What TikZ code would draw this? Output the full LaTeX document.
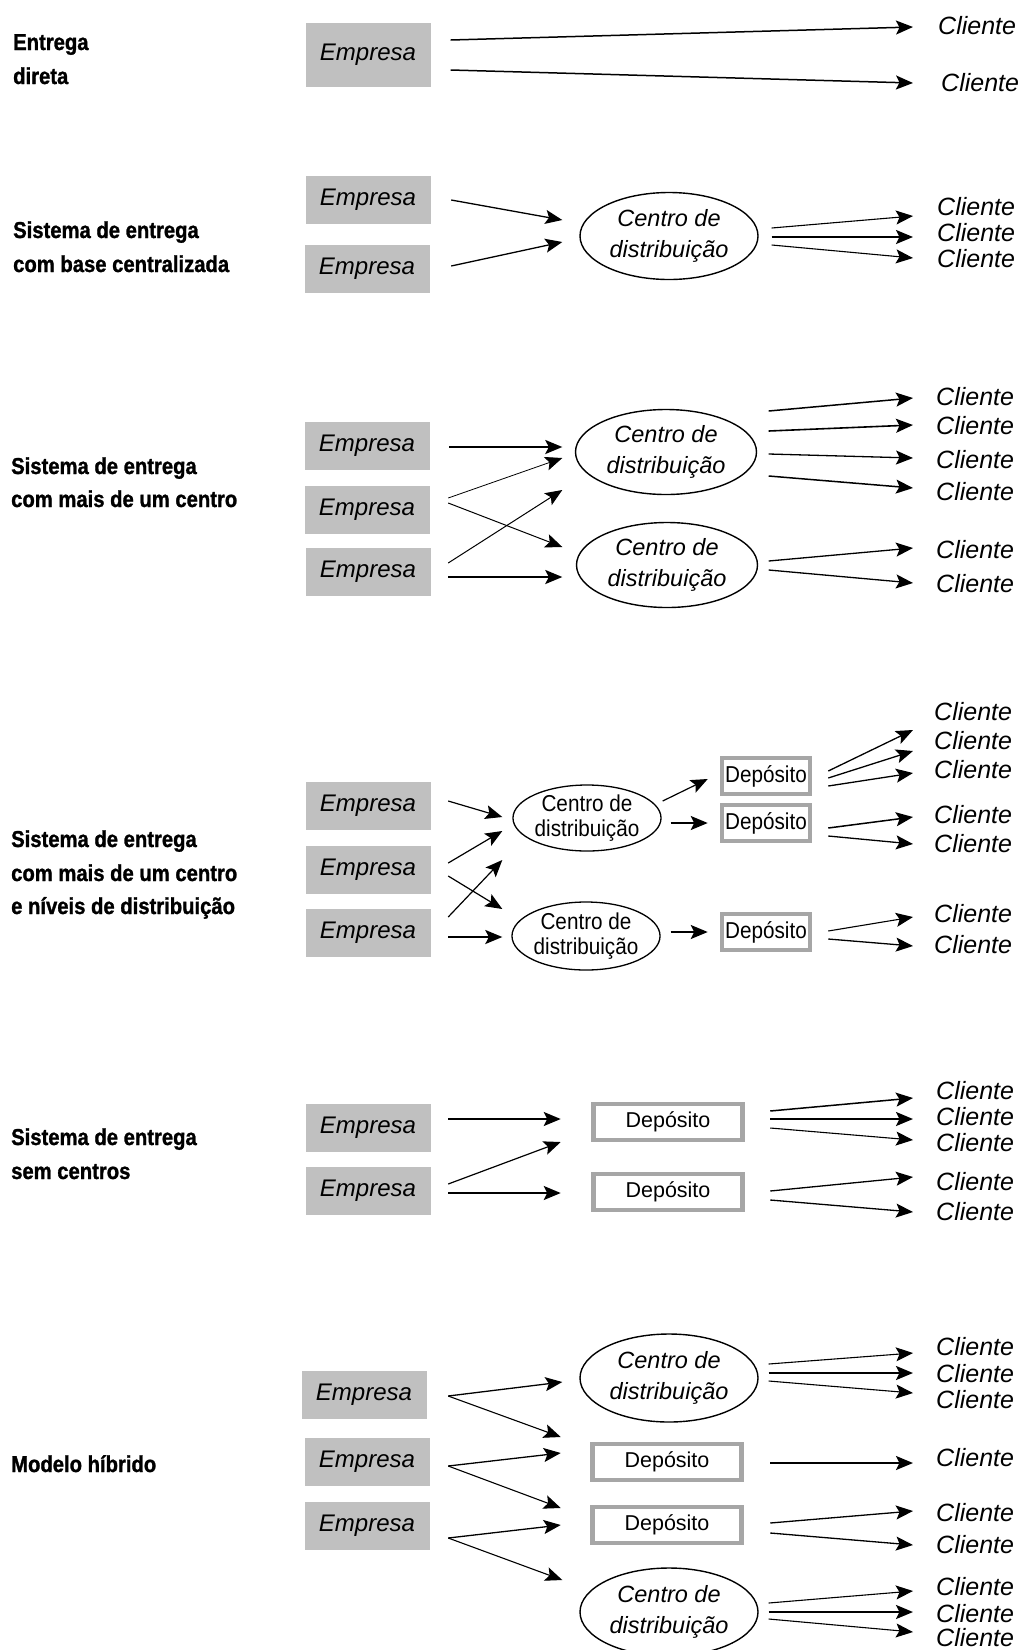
\documentclass[tikz,border=0pt]{standalone}
\usepackage{fontspec}
\setmainfont{Liberation Sans}
\newfontfamily\labfont{Liberation Sans Bold}[FakeStretch=0.88,FakeBold=1.2]
\newfontfamily\narrowfont{Liberation Sans}[FakeStretch=0.9]
\usetikzlibrary{calc,arrows.meta,shapes.geometric}
\definecolor{boxgray}{RGB}{192,192,192}
\definecolor{depgray}{RGB}{166,166,166}
\tikzset{
 lab/.style={anchor=base west, inner sep=0pt, font=\labfont\fontsize{23pt}{26pt}\selectfont},
 emp/.style={fill=boxgray, minimum width=125pt, minimum height=48pt, inner sep=0pt, font=\itshape\fontsize{24pt}{28pt}\selectfont},
 cli/.style={anchor=west, inner sep=0pt, font=\itshape\fontsize{25pt}{28pt}\selectfont},
 cd/.style={ellipse, draw, line width=1.4pt, minimum width=178pt, minimum height=86pt, inner sep=0pt, align=center, font=\itshape\fontsize{23.5pt}{31pt}\selectfont},
 cdn/.style={ellipse, draw, line width=1.3pt, minimum width=142pt, minimum height=66pt, inner sep=0pt, align=center, font=\narrowfont\fontsize{23pt}{25pt}\selectfont},
 dep/.style={draw=depgray, line width=4.5pt, fill=white, minimum width=149pt, minimum height=36pt, inner sep=0pt, font=\fontsize{21.5pt}{24pt}\selectfont},
 depn/.style={dep, minimum width=88pt, font=\narrowfont\fontsize{23pt}{26pt}\selectfont},
 arn/.style={-{Stealth[length=17pt,width=14pt,inset=3.5pt]}, line width=1.3pt},
 arl/.style={arn, line width=0.9pt},
 arh/.style={arn, line width=2.1pt},
}
\begin{document}
\begin{tikzpicture}[x=1pt,y=-1pt]
\useasboundingbox (0,0) rectangle (1020,1650);
\clip (0,0) rectangle (1020,1650);
\fill[white] (0,0) rectangle (1020,1650);

% ---------- Section 1 ----------
\node[lab] (l1a) at (13,50) {Entrega};
\node[lab] (l1b) at (13,84) {direta};
\node[emp, minimum height=64pt] (e11) at (368,55) {Empresa};
\node[cli] (c11) at (938,26) {Cliente};
\node[cli] (c12) at (941,83) {Cliente};
\draw[arn, line width=1.5pt] ($(e11.east)+(20,-15)$) -- ($(c11.west)+(-25,1)$);
\draw[arn, line width=1.5pt] ($(e11.east)+(20,15)$) -- ($(c12.west)+(-28,0)$);

% ---------- Section 2 ----------
\node[lab] (l2a) at (13,238) {Sistema de entrega};
\node[lab] (l2b) at (13,272) {com base centralizada};
\node[emp] (e21) at (368,200) {Empresa};
\node[emp] (e22) at (367,269) {Empresa};
\node[cd, minimum height=87pt] (d2) at (669,236) {Centro de\\distribuição};
\node[cli] (c21) at (937,207) {Cliente};
\node[cli] (c22) at (937,233) {Cliente};
\node[cli] (c23) at (937,259) {Cliente};
\draw[arn] ($(e21.east)+(20.5,0)$) -- ($(d2.west)+(-17,-16)$);
\draw[arn] ($(e22.east)+(21.5,-3)$) -- ($(d2.west)+(-17,6)$);
\draw[arn, line width=1.1pt] ($(d2.east)+(13,-8)$) -- ($(c21.west)+(-24,9)$);
\draw[arh, line width=2.3pt] ($(d2.east)+(13,1)$) -- ($(c22.west)+(-24,4)$);
\draw[arn, line width=1.1pt] ($(d2.east)+(13,9)$) -- ($(c23.west)+(-24,-1)$);

% ---------- Section 3 ----------
\node[lab] (l3a) at (11,474) {Sistema de entrega};
\node[lab] (l3b) at (11,507) {com mais de um centro};
\node[emp] (e31) at (367,446) {Empresa};
\node[emp] (e32) at (367,510) {Empresa};
\node[emp] (e33) at (368,572) {Empresa};
\node[cd, minimum width=181pt, minimum height=85pt] (d31) at (666,452) {Centro de\\distribuição};
\node[cd, minimum width=181pt, minimum height=85pt] (d32) at (667,565) {Centro de\\distribuição};
\node[cli] (c31) at (936,397) {Cliente};
\node[cli] (c32) at (936,426) {Cliente};
\node[cli] (c33) at (936,460) {Cliente};
\node[cli] (c34) at (936,492) {Cliente};
\node[cli] (c35) at (936,550) {Cliente};
\node[cli] (c36) at (936,584) {Cliente};
\draw[arh] ($(e31.east)+(19.5,1)$) -- ($(d31.west)+(-12.5,-5)$);
\draw[arl, line width=0.8pt] ($(e32.east)+(18.5,-12)$) -- ($(d31.west)+(-12.5,6)$);
\draw[arl, line width=1pt] ($(e32.east)+(18.5,-7)$) -- ($(d32.west)+(-13.5,-18)$);
\draw[arl, line width=1pt] ($(e33.east)+(17.5,-9)$) -- ($(d31.west)+(-12.5,38)$);
\draw[arh] ($(e33.east)+(17.5,5)$) -- ($(d32.west)+(-13.5,12)$);
\draw[arn, line width=1.5pt] ($(d31.east)+(11.5,-41)$) -- ($(c31.west)+(-23,1)$);
\draw[arn, line width=1.6pt] ($(d31.east)+(11.5,-21)$) -- ($(c32.west)+(-23,-1)$);
\draw[arn] ($(d31.east)+(11.5,2)$) -- ($(c33.west)+(-23,-2)$);
\draw[arn, line width=1.5pt] ($(d31.east)+(11.5,24)$) -- ($(c34.west)+(-23,-4)$);
\draw[arn] ($(d32.east)+(10.5,-4)$) -- ($(c35.west)+(-23,-2)$);
\draw[arn] ($(d32.east)+(10.5,5)$) -- ($(c36.west)+(-23,-1)$);

% ---------- Section 4 ----------
\node[lab] (l4a) at (11,847) {Sistema de entrega};
\node[lab] (l4b) at (11,881) {com mais de um centro};
\node[lab] (l4c) at (11,914) {e níveis de distribuição};
\node[emp] (e41) at (368,806) {Empresa};
\node[emp] (e42) at (368,870) {Empresa};
\node[emp] (e43) at (368,933) {Empresa};
\node[cdn] (d41) at (587,818) {Centro de\\distribuição};
\node[cdn, minimum height=68pt] (d42) at (586,936) {Centro de\\distribuição};
\node[depn] (p41) at (766,776) {Depósito};
\node[depn] (p42) at (766,823) {Depósito};
\node[depn] (p43) at (766,932) {Depósito};
\node[cli] (c41) at (934,712) {Cliente};
\node[cli] (c42) at (934,741) {Cliente};
\node[cli] (c43) at (934,770) {Cliente};
\node[cli] (c44) at (934,815) {Cliente};
\node[cli] (c45) at (934,844) {Cliente};
\node[cli] (c46) at (934,914) {Cliente};
\node[cli] (c47) at (934,945) {Cliente};
\draw[arn, line width=1.2pt] ($(e41.east)+(17.5,-5)$) -- ($(d41.west)+(-10,-1)$);
\draw[arn, line width=1.2pt] ($(e42.east)+(17.5,-7)$) -- ($(d41.west)+(-10,13)$);
\draw[arn, line width=1.2pt] ($(e42.east)+(17.5,6)$) -- ($(d42.west)+(-9,-27)$);
\draw[arn, line width=1.2pt] ($(e43.east)+(17.5,-16)$) -- ($(d41.west)+(-10,42)$);
\draw[arh, line width=2pt] ($(e43.east)+(17.5,4)$) -- ($(d42.west)+(-9,1)$);
\draw[arn, line width=1.2pt] ($(d41.east)+(1,-17)$) -- ($(p41.west)+(-12,3)$);
\draw[arh, line width=2pt] ($(d41.east)+(9,5)$) -- ($(p42.west)+(-12,0)$);
\draw[arh, line width=2pt] ($(d42.east)+(10,-4)$) -- ($(p43.west)+(-12,0)$);
\draw[arn] ($(p41.east)+(16,-5)$) -- ($(c41.west)+(-21,18)$);
\draw[arn] ($(p41.east)+(16,2)$) -- ($(c42.west)+(-21,10)$);
\draw[arn] ($(p41.east)+(16,10)$) -- ($(c43.west)+(-21,3)$);
\draw[arn, line width=1.5pt] ($(p42.east)+(16,5)$) -- ($(c44.west)+(-21,2)$);
\draw[arn] ($(p42.east)+(16,13)$) -- ($(c45.west)+(-21,0)$);
\draw[arn, line width=1.1pt] ($(p43.east)+(16,-1)$) -- ($(c46.west)+(-21,3)$);
\draw[arn] ($(p43.east)+(16,7)$) -- ($(c47.west)+(-21,1)$);

% ---------- Section 5 ----------
\node[lab] (l5a) at (11,1145) {Sistema de entrega};
\node[lab] (l5b) at (11,1179) {sem centros};
\node[emp] (e51) at (368,1128) {Empresa};
\node[emp] (e52) at (368,1191) {Empresa};
\node[dep] (p51) at (668,1122) {Depósito};
\node[dep] (p52) at (668,1192) {Depósito};
\node[cli] (c51) at (936,1091) {Cliente};
\node[cli] (c52) at (936,1117) {Cliente};
\node[cli] (c53) at (936,1143) {Cliente};
\node[cli] (c54) at (936,1182) {Cliente};
\node[cli] (c55) at (936,1212) {Cliente};
\draw[arh, line width=2pt] ($(e51.east)+(17.5,-9)$) -- ($(p51.west)+(-30.5,-3)$);
\draw[arn, line width=1.2pt] ($(e52.east)+(17.5,-7)$) -- ($(p51.west)+(-30.5,20)$);
\draw[arh, line width=2pt] ($(e52.east)+(17.5,2)$) -- ($(p52.west)+(-30.5,1)$);
\draw[arn, line width=1.5pt] ($(p51.east)+(25.5,-11)$) -- ($(c51.west)+(-23,7)$);
\draw[arh, line width=2.3pt] ($(p51.east)+(25.5,-3)$) -- ($(c52.west)+(-23,2)$);
\draw[arn, line width=1.1pt] ($(p51.east)+(25.5,6)$) -- ($(c53.west)+(-23,-3)$);
\draw[arn] ($(p52.east)+(25.5,-1)$) -- ($(c54.west)+(-23,-5)$);
\draw[arn] ($(p52.east)+(25.5,8)$) -- ($(c55.west)+(-23,0)$);

% ---------- Section 6 ----------
\node[lab] (l6a) at (11,1472) {Modelo híbrido};
\node[emp] (e61) at (364,1395) {Empresa};
\node[emp] (e62) at (367,1462) {Empresa};
\node[emp] (e63) at (367,1526) {Empresa};
\node[cd, minimum height=88pt] (d61) at (669,1378) {Centro de\\distribuição};
\node[dep] (p61) at (667,1462) {Depósito};
\node[dep] (p62) at (667,1525) {Depósito};
\node[cd, minimum height=88pt] (d62) at (669,1612) {Centro de\\distribuição};
\node[cli] (c61) at (936,1347) {Cliente};
\node[cli] (c62) at (936,1374) {Cliente};
\node[cli] (c63) at (936,1400) {Cliente};
\node[cli] (c64) at (936,1458) {Cliente};
\node[cli] (c65) at (936,1513) {Cliente};
\node[cli] (c66) at (936,1545) {Cliente};
\node[cli] (c67) at (936,1587) {Cliente};
\node[cli] (c68) at (936,1614) {Cliente};
\node[cli] (c69) at (936,1638) {Cliente};
\draw[arn, line width=1.3pt] ($(e61.east)+(21.5,1)$) -- ($(d61.west)+(-17,4)$);
\draw[arn, line width=1.1pt] ($(e61.east)+(21.5,1)$) -- ($(p61.west)+(-29.5,-25)$);
\draw[arn, line width=1.3pt] ($(e62.east)+(18.5,4)$) -- ($(p61.west)+(-29.5,-9)$);
\draw[arn, line width=1.1pt] ($(e62.east)+(18.5,4)$) -- ($(p62.west)+(-29.5,-17)$);
\draw[arn, line width=1.3pt] ($(e63.east)+(18.5,12)$) -- ($(p62.west)+(-29.5,0)$);
\draw[arn, line width=1.1pt] ($(e63.east)+(18.5,12)$) -- ($(d62.west)+(-17,-32)$);
\draw[arn, line width=1.1pt] ($(d61.east)+(10,-14)$) -- ($(c61.west)+(-23,6)$);
\draw[arh, line width=2.4pt] ($(d61.east)+(10,-5)$) -- ($(c62.west)+(-23,-1)$);
\draw[arn, line width=1.1pt] ($(d61.east)+(10,3)$) -- ($(c63.west)+(-23,-7)$);
\draw[arh, line width=2pt] ($(p61.east)+(26.5,1)$) -- ($(c64.west)+(-23,5)$);
\draw[arn] ($(p62.east)+(26.5,-2)$) -- ($(c65.west)+(-23,-2)$);
\draw[arn] ($(p62.east)+(26.5,8)$) -- ($(c66.west)+(-23,0)$);
\draw[arn, line width=1.1pt] ($(d62.east)+(10,-9)$) -- ($(c67.west)+(-23,4)$);
\draw[arh, line width=2.4pt] ($(d62.east)+(10,0)$) -- ($(c68.west)+(-23,-2)$);
\draw[arn, line width=1.1pt] ($(d62.east)+(10,7)$) -- ($(c69.west)+(-23,-6)$);
\end{tikzpicture}
\end{document}
